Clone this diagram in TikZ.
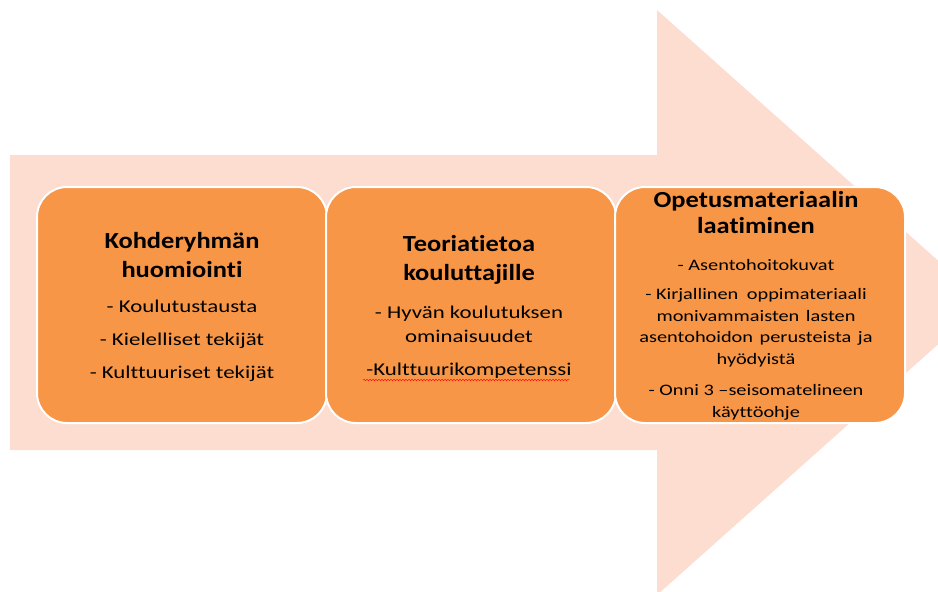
\documentclass[tikz,border=0pt]{standalone}
\usepackage{fontspec}
\setmainfont{Carlito}[FakeStretch=1.15, Ligatures={TeX,NoCommon}]
\newfontfamily\listfont{Carlito}[FakeStretch=1.27, Ligatures={TeX,NoCommon}]
\usetikzlibrary{positioning,decorations.pathmorphing}
\definecolor{arrowpeach}{RGB}{252,221,208}
\definecolor{boxorange}{RGB}{247,150,70}
\begin{document}
\begin{tikzpicture}[x=1pt, y=-1pt,
    box/.style={draw=white, line width=2pt, fill=boxorange, rounded corners=30pt,
      minimum width=290pt, minimum height=236pt, inner sep=0pt},
    head/.style={align=center, anchor=base, inner sep=0pt,
      font=\bfseries\fontsize{23}{28.5}\selectfont},
    body/.style={align=center, anchor=base, inner sep=0pt}]
  \clip (0,0) rectangle (938,592);
  % big arrow in the background
  \fill[arrowpeach] (10,155) -- (657,155) -- (657,10) -- (985,302.5)
    -- (657,595) -- (657,450) -- (10,450) -- cycle;
  % the three steps
  \node[box] (b1) at (182,305) {};
  \node[box, right=-3pt of b1] (b2) {};
  \node[box, right=-3pt of b2] (b3) {};
  \node[head] (h1) at (182,277) {Kohderyhmän\\huomiointi};
  \node[body, font=\listfont\fontsize{18}{33}\selectfont] (l1) at (182,378)
    {- Koulutustausta\\- Kielelliset tekijät\\- Kulttuuriset tekijät};
  \node[head] (h2) at (469,280) {Teoriatietoa\\kouluttajille};
  \node[body, font=\listfont\fontsize{18}{24}\selectfont] (l2) at (469,375)
    {- Hyvän koulutuksen\\ominaisuudet\\[9pt]-Kulttuurikompetenssi};
  \draw[red, decorate, decoration={snake, amplitude=0.8pt, segment length=3pt}]
    (363,380) -- (570,380);
  \node[head, font=\bfseries\fontsize{23}{26}\selectfont] (h3) at (756,233)
    {Opetusmateriaalin\\laatiminen};
  \node[body, font=\listfont\fontsize{16}{21.5}\selectfont] (l3) at (756,417)
    {- Asentohoitokuvat\\[8pt]- Kirjallinen\hspace{4pt} oppimateriaali\\monivammaisten\hspace{2pt} lasten\\
     asentohoidon\hspace{2pt} perusteista\hspace{2pt} ja\\hyödyistä\\[10pt]- Onni 3 –seisomatelineen\\käyttöohje};
\end{tikzpicture}
\end{document}
